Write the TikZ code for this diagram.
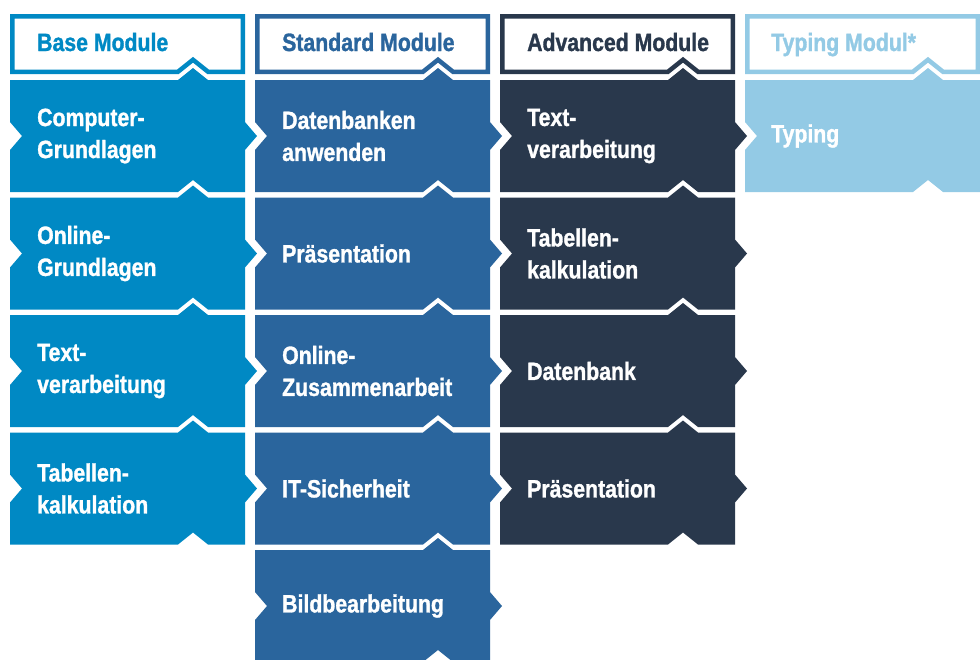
\documentclass[tikz,border=0pt]{standalone}
\usepackage{fontspec}
\setmainfont{Liberation Sans}
\newfontfamily\modfont[FakeStretch=0.85,FakeBold=1.2]{Liberation Sans}
\usepackage{tikz}
\definecolor{basecol}{RGB}{0,137,196}
\definecolor{stdcol}{RGB}{42,101,157}
\definecolor{advcol}{RGB}{41,56,76}
\definecolor{typcol}{RGB}{147,202,229}
\newcommand{\modhead}[2]{\begin{scope}[shift={(#2,14)}]
\draw[fill=white,draw=#1,line width=4.5pt] (2.25,2.25) -- (232.75,2.25) -- (232.75,57.75) -- (198,57.75) -- (183,45.75) -- (168,57.75) -- (2.25,57.75) -- cycle;
\end{scope}}
\newcommand{\modblock}[3]{\begin{scope}[shift={(#2,#3)}]
\fill[#1] (0,0) -- (168,0) -- (183,-12) -- (198,0) -- (235,0) -- (235,42) -- (247,56) -- (235,70) -- (235,112) -- (198,112) -- (183,100) -- (168,112) -- (0,112) -- (0,70) -- (12,56) -- (0,42) -- cycle;
\end{scope}}

\begin{document}
\begin{tikzpicture}[x=1pt,y=-1pt,modtext/.style={anchor=west,inner sep=0pt,align=left,text=white,font=\modfont\bfseries\fontsize{25}{32}\selectfont},
headtext/.style={anchor=base west,inner sep=0pt,font=\modfont\bfseries\fontsize{25}{32}\selectfont}]
\useasboundingbox (0,0) rectangle (980,659);
\fill[white] (0,0) rectangle (980,659);
\clip (0,0) rectangle (980,659);
\modhead{basecol}{10}
\modhead{stdcol}{255}
\modhead{advcol}{500}
\modhead{typcol}{745}
\modblock{basecol}{10}{80}
\modblock{basecol}{10}{197.5}
\modblock{basecol}{10}{315}
\modblock{basecol}{10}{432.5}
\modblock{stdcol}{255}{80}
\modblock{stdcol}{255}{197.5}
\modblock{stdcol}{255}{315}
\modblock{stdcol}{255}{432.5}
\modblock{stdcol}{255}{550}
\modblock{advcol}{500}{80}
\modblock{advcol}{500}{197.5}
\modblock{advcol}{500}{315}
\modblock{advcol}{500}{432.5}
\modblock{typcol}{745}{80}
\node[headtext,text=basecol] (hbase) at (37,51) {Base Module};
\node[headtext,text=stdcol] (hstd) at (282,51) {Standard Module};
\node[headtext,text=advcol] (hadv) at (527,51) {Advanced Module};
\node[headtext,text=typcol] (htyp) at (771,51) {Typing Modul*};
\node[modtext] (base1) at (37,136) {Computer-\\Grundlagen};
\node[modtext] (base2) at (37,253.5) {Online-\\Grundlagen};
\node[modtext] (base3) at (37,371) {Text-\\verarbeitung};
\node[modtext] (base4) at (37,488.5) {Tabellen-\\kalkulation};
\node[modtext] (std1) at (282,136) {Datenbanken\\anwenden};
\node[modtext] (std2) at (282,253.5) {Präsentation};
\node[modtext] (std3) at (282,371) {Online-\\Zusammenarbeit};
\node[modtext] (std4) at (282,488.5) {IT-Sicherheit};
\node[modtext] (std5) at (282,606) {Bildbearbeitung};
\node[modtext] (adv1) at (527,136) {Text-\\verarbeitung};
\node[modtext] (adv2) at (527,253.5) {Tabellen-\\kalkulation};
\node[modtext] (adv3) at (527,371) {Datenbank};
\node[modtext] (adv4) at (527,488.5) {Präsentation};
\node[modtext] (typ1) at (771,136) {Typing};
\end{tikzpicture}
\end{document}
